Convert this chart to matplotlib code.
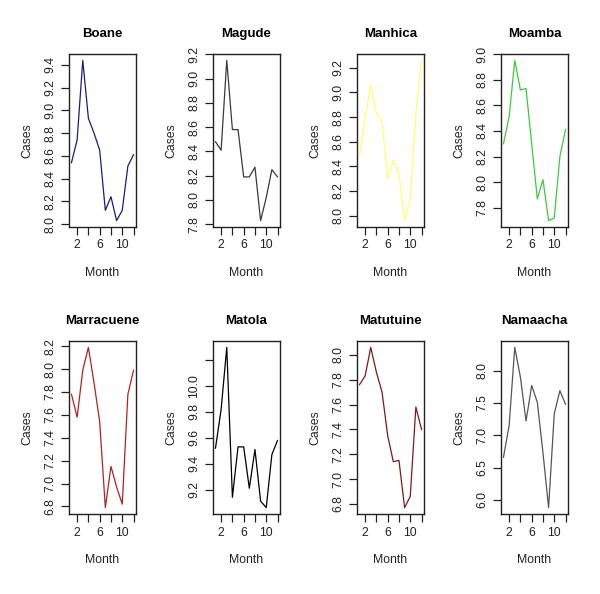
import numpy as np
import matplotlib.pyplot as plt

plt.rcParams['font.family'] = ['Liberation Sans', 'DejaVu Sans']

months = np.arange(1, 13)

districts = ['Boane', 'Magude', 'Manhica', 'Moamba',
             'Marracuene', 'Matola', 'Matutuine', 'Namaacha']

boane = [8.54, 8.74, 9.44, 8.93, 8.80, 8.65, 8.12, 8.24, 8.03, 8.12, 8.51, 8.61]
magude = [8.48, 8.41, 9.15, 8.58, 8.58, 8.19, 8.19, 8.27, 7.83, 8.02, 8.25, 8.19]
manhica = [8.49, 8.79, 9.06, 8.83, 8.76, 8.30, 8.45, 8.34, 7.96, 8.13, 8.83, 9.26]
moamba = [8.30, 8.51, 8.95, 8.72, 8.73, 8.30, 7.87, 8.02, 7.70, 7.72, 8.20, 8.41]
marracuene = [7.78, 7.58, 7.99, 8.19, 7.88, 7.54, 6.79, 7.15, 6.97, 6.82, 7.78, 7.99]
matola = [9.52, 9.82, 10.30, 9.14, 9.53, 9.53, 9.21, 9.51, 9.11, 9.06, 9.47, 9.58]
matutuine = [7.76, 7.83, 8.06, 7.86, 7.70, 7.35, 7.14, 7.15, 6.77, 6.86, 7.58, 7.40]
namaacha = [6.66, 7.15, 8.36, 7.90, 7.22, 7.77, 7.51, 6.73, 5.88, 7.33, 7.69, 7.48]

series = [boane, magude, manhica, moamba, marracuene, matola, matutuine, namaacha]
colors = ['#1c1c78', '#3a3a3a', '#ffff70', '#3ccc3c',
          '#b22222', '#000000', '#7a1a1a', '#555555']

# y ticks as drawn in each panel
yticks = [
    [8.0, 8.2, 8.4, 8.6, 8.8, 9.0, 9.2, 9.4],
    [7.8, 8.0, 8.2, 8.4, 8.6, 8.8, 9.0, 9.2],
    [8.0, 8.2, 8.4, 8.6, 8.8, 9.0, 9.2],
    [7.8, 8.0, 8.2, 8.4, 8.6, 8.8, 9.0],
    [6.8, 7.0, 7.2, 7.4, 7.6, 7.8, 8.0, 8.2],
    [9.2, 9.4, 9.6, 9.8, 10.0, 10.2],
    [6.8, 7.0, 7.2, 7.4, 7.6, 7.8, 8.0],
    [6.0, 6.5, 7.0, 7.5, 8.0],
]

W, H = 600, 594
fig = plt.figure(figsize=(W / 100, H / 100), dpi=100)

lefts = [69, 213, 357, 501]
tops = [54, 341]
aw, ah = 67, 173

for i, name in enumerate(districts):
    r, c = divmod(i, 4)
    x0 = lefts[c] / W
    y0 = 1 - (tops[r] + ah) / H
    ax = fig.add_axes([x0, y0, aw / W, ah / H])
    y = np.array(series[i])
    ax.plot(months, y, color=colors[i], lw=0.9)

    ax.set_xlim(1 - 0.04 * 11, 12 + 0.04 * 11)
    rng = y.max() - y.min()
    ax.set_ylim(y.min() - 0.04 * rng, y.max() + 0.04 * rng)

    ax.set_xticks([2, 4, 6, 8, 10, 12])
    ax.set_xticklabels(['2', '', '6', '', '10', ''])
    ticks = yticks[i]
    ax.set_yticks(ticks)
    labels = ['%.1f' % t for t in ticks]
    if name == 'Matola':
        labels[-1] = ''
    ax.set_yticklabels(labels, rotation=90, va='center')

    ax.tick_params(direction='out', length=6, width=0.9, labelsize=8.8,
                   colors='#222222', pad=3)
    for s in ax.spines.values():
        s.set_linewidth(1.0)
        s.set_color('#222222')

    ax.set_title(name, fontsize=9.5, fontweight='bold', pad=12)
    ax.set_xlabel('Month', fontsize=8.8, labelpad=11, color='#222222')
    ax.set_ylabel('Cases', fontsize=8.8, labelpad=8, color='#222222')

fig.savefig('out.png', dpi=100, facecolor='white')
